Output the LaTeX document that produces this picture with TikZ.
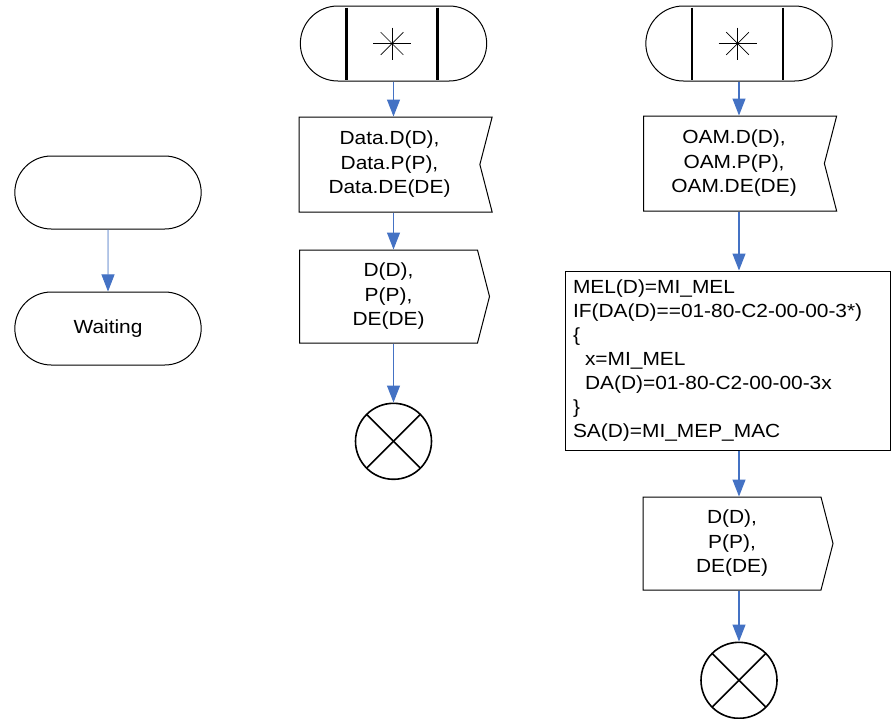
\documentclass[tikz,border=0pt]{standalone}
\usepackage{fontspec}
\setmainfont{Liberation Sans}[FakeStretch=1.1]
\usepackage{tikz}
\usetikzlibrary{arrows.meta,positioning,shapes.misc,shapes.symbols}
\definecolor{flowblue}{RGB}{68,114,196}
\tikzset{
  term/.style   = {rounded rectangle, draw=black, line width=1pt,
                   minimum width=193pt, minimum height=73pt,
                   font=\fontsize{19}{24.5}\selectfont},
  evt/.style    = {term, minimum height=75pt},
  recv/.style   = {signal, signal to=nowhere, signal from=east,
                   signal pointer angle=151, draw=black, line width=1pt,
                   minimum width=193pt, minimum height=95pt, align=center,
                   font=\fontsize{19}{24.5}\selectfont},
  sendbox/.style= {signal, signal to=east, signal pointer angle=151,
                   draw=black, line width=1pt, minimum width=190pt,
                   minimum height=93pt, align=center,
                   font=\fontsize{19}{24.5}\selectfont},
  task/.style   = {rectangle, draw=black, line width=1pt, text width=309pt,
                   align=left, minimum height=179pt, inner sep=8pt,
                   font=\fontsize{19}{24}\selectfont},
  endmark/.style= {circle, draw=black, line width=1.6pt, minimum size=76pt,
                   anchor=north,
                   path picture={
                     \draw[line width=1.6pt] (path picture bounding box.north west)
                       -- (path picture bounding box.south east);
                     \draw[line width=1.6pt] (path picture bounding box.south west)
                       -- (path picture bounding box.north east);}},
  fl/.style     = {-{Triangle[length=17pt,width=13pt]}, draw=flowblue,
                   fill=flowblue, line width=1.3pt},
  thinfl/.style = {fl, line width=0.8pt},
}

\begin{document}
\begin{tikzpicture}[x=1pt,y=1pt]
  \useasboundingbox (0,0) rectangle (893,-718);

  % left column
  \node[term] (idle) at (108,-192.5) {};
  \node[term, below=62pt of idle] (wait) {Waiting};
  \draw[thinfl] (idle) -- (wait);

  % middle column
  \node[evt] (ev1) at (393.5,-43.5) {};
  \node[recv, below=35pt of ev1, xshift=-4pt] (rx1) {Data.D(D),\\Data.P(P),\\Data.DE(DE)};
  \node[sendbox, below=37pt of rx1, xshift=-1pt] (tx1) {D(D),\\P(P),\\DE(DE)};
  \node[endmark, yshift=-59pt] (end1) at (ev1 |- tx1.south) {};
  \draw[fl] (ev1) -- (ev1 |- rx1.north);
  \draw[fl] (ev1 |- rx1.south) -- (ev1 |- tx1.north);
  \draw[fl] (ev1 |- tx1.south) -- (end1);

  % right column
  \node[evt] (ev2) at (739,-43.5) {};
  \node[recv, below=34pt of ev2, xshift=-5pt] (rx2) {OAM.D(D),\\OAM.P(P),\\OAM.DE(DE)};
  \node[task, below=59pt of rx2, xshift=-6.5pt] (proc) {MEL(D)=MI\_MEL\\
    IF(DA(D)==01-80-C2-00-00-3*)\\
    \{\\
    \hspace*{12pt}x=MI\_MEL\\
    \hspace*{12pt}DA(D)=01-80-C2-00-00-3x\\
    \}\\
    SA(D)=MI\_MEP\_MAC};
  \node[sendbox, below=46pt of proc, xshift=4.5pt] (tx2) {D(D),\\P(P),\\DE(DE)};
  \node[endmark, yshift=-51pt] (end2) at (ev2 |- tx2.south) {};
  \draw[fl] (ev2) -- (ev2 |- rx2.north);
  \draw[fl] (ev2 |- rx2.south) -- (ev2 |- proc.north);
  \draw[fl] (ev2 |- proc.south) -- (ev2 |- tx2.north);
  \draw[fl] (ev2 |- tx2.south) -- (end2);

  % bars and star of the event symbols
  \foreach \n in {ev1,ev2} {
    \draw[line width=2.4pt] ([xshift=-47pt,yshift=-2pt]\n.north)
      -- ([xshift=-47pt,yshift=2pt]\n.south);
    \draw[line width=2.4pt] ([xshift=44pt,yshift=-2pt]\n.north)
      -- ([xshift=44pt,yshift=2pt]\n.south);
    \draw[line width=0.7pt] ([xshift=-20.5pt]\n.center) -- ++(38pt,0);
    \draw[line width=0.7pt] ([xshift=-1.5pt,yshift=16pt]\n.center) -- ++(0,-32pt);
    \foreach \a in {45,135}
      \draw[line width=0.7pt] ([xshift=-1.5pt]\n.center) ++(\a:16pt)
        -- ++(\a+180:32pt);
  }
\end{tikzpicture}
\end{document}
